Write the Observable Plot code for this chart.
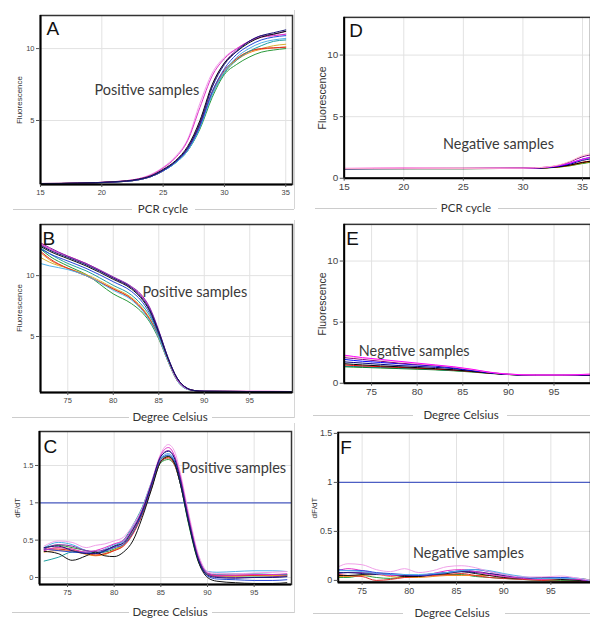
<!DOCTYPE html>
<html><head><meta charset="utf-8">
<script src="https://cdn.jsdelivr.net/npm/d3@7"></script>
<script src="https://cdn.jsdelivr.net/npm/@observablehq/plot@0.6"></script>
<style>
html,body{margin:0;padding:0;background:#fff;}
#fig{position:relative;width:590px;height:619px;overflow:hidden;background:#fff;font-family:"Liberation Sans",Arial,sans-serif;}
.p{position:absolute;}
.ttl{position:absolute;font-family:Lato,"Open Sans",sans-serif;font-size:11.5px;color:#333;transform:translate(-50%,-50%);white-space:nowrap;}
.ylab{position:absolute;font-family:"Liberation Sans",Arial,sans-serif;color:#333;transform:translate(-50%,-50%) rotate(-90deg);white-space:nowrap;line-height:1;}
.hl{position:absolute;height:1px;background:#cccccc;}
.vl{position:absolute;width:1px;background:#d6d6d6;}
</style></head><body><div id="fig"></div><script>
// ---- shared series ----
const seriesNames = ["green","gold","orange","red","teal","sky","blue","pink","magenta","purple","black","navy"];
const seriesColors = ["#2a9a3a","#d8b030","#f08a20","#e02828","#20a0a0","#50b0e8","#2848d8","#f0a0e8","#e030c8","#8a2aa8","#111111","#181878"];
const thresholdDfdt = 1;

// ---- Panel A: positive amplification ----
const cyclesA = [15,18,21,23,24,25,26,27,28,29,30,31,32,33,34,35];
const ampPosNames = ["green","gold","orange","red","teal","sky","blue","pink","magenta","purple","black","navy"];
const ampPos = [
  [0.6,0.64,0.72,0.88,1.1,1.5,2.05,2.9,4.4,6.6,8.2,8.9,9.4,9.75,9.9,10.0],
  [0.6,0.64,0.72,0.88,1.1,1.5,2.1,3.0,4.6,6.9,8.4,9.3,9.8,10.0,10.2,10.3],
  [0.6,0.64,0.72,0.88,1.1,1.5,2.1,3.0,4.6,6.9,8.4,9.2,9.7,9.95,10.05,10.1],
  [0.6,0.64,0.72,0.88,1.1,1.5,2.1,3.0,4.7,7.0,8.5,9.3,9.8,10.0,10.05,10.1],
  [0.6,0.64,0.72,0.88,1.1,1.5,2.05,2.9,4.5,6.8,8.3,9.2,9.8,10.2,10.5,10.6],
  [0.6,0.64,0.72,0.88,1.1,1.5,2.05,2.9,4.5,6.8,8.4,9.4,10.0,10.4,10.6,10.7],
  [0.6,0.64,0.72,0.88,1.1,1.5,2.1,3.0,4.6,7.0,8.6,9.6,10.2,10.6,10.8,10.9],
  [0.62,0.65,0.75,0.95,1.25,1.75,2.5,3.7,6.2,8.3,9.4,10.0,10.5,10.8,10.9,11.0],
  [0.62,0.65,0.75,0.95,1.2,1.7,2.4,3.6,5.9,8.1,9.3,10.0,10.5,10.8,10.9,11.0],
  [0.6,0.64,0.73,0.9,1.12,1.55,2.15,3.1,4.9,7.4,9.0,9.9,10.5,10.9,11.0,11.2],
  [0.62,0.65,0.74,0.92,1.15,1.6,2.2,3.2,5.0,7.5,9.0,9.8,10.4,10.8,11.0,11.2],
  [0.6,0.64,0.73,0.9,1.12,1.55,2.15,3.1,4.8,7.3,8.9,9.8,10.5,10.9,11.1,11.3]
];

// ---- Panel B: positive melt ----
const tempsB = [72,73,75,77,80,82,83,84,85,86,87,88,89,90,95,99.7];
const meltPosNames = ["green","gold","orange","red","teal","sky","blue","pink","magenta","purple","black","navy"];
const meltPos = [
  [12.2,11.6,10.8,10.1,8.5,7.7,7.1,6.2,4.8,3.0,1.4,0.7,0.55,0.5,0.48,0.47],
  [11.5,11.1,10.6,10.1,9.0,8.2,7.5,6.5,5.0,3.0,1.5,0.75,0.55,0.5,0.48,0.47],
  [11.9,11.3,10.6,10.0,8.9,8.1,7.4,6.4,4.9,3.0,1.4,0.75,0.55,0.5,0.48,0.47],
  [12.0,11.4,10.6,10.0,8.9,8.1,7.4,6.4,5.0,3.1,1.5,0.75,0.55,0.5,0.48,0.47],
  [12.3,11.8,11.0,10.4,9.2,8.4,7.7,6.7,5.1,3.1,1.5,0.75,0.55,0.5,0.48,0.47],
  [11.0,10.8,10.5,10.0,8.8,8.0,7.3,6.3,4.9,3.0,1.4,0.7,0.55,0.5,0.48,0.47],
  [12.2,11.8,11.2,10.6,9.5,8.7,8.0,6.9,5.2,3.2,1.6,0.8,0.55,0.5,0.48,0.47],
  [12.6,12.2,11.6,11.0,9.85,9.1,8.4,7.3,5.4,3.2,1.5,0.75,0.55,0.5,0.5,0.48],
  [12.6,12.2,11.6,11.0,9.8,9.0,8.4,7.3,5.4,3.2,1.5,0.75,0.55,0.5,0.5,0.48],
  [12.7,12.3,11.6,11.0,9.9,9.1,8.5,7.4,5.5,3.3,1.6,0.8,0.55,0.5,0.48,0.48],
  [12.4,12.0,11.4,10.8,9.7,8.9,8.2,7.1,5.3,3.2,1.6,0.8,0.55,0.5,0.48,0.47],
  [12.5,12.1,11.5,10.9,9.8,9.0,8.3,7.2,5.4,3.3,1.6,0.8,0.55,0.5,0.48,0.47]
];

// ---- Panel C: positive dF/dT ----
const tempsC = [72.5,74,75.5,77,78,79,80,81,82,83,84,85,85.8,86.5,87,88,89,90,91,93,95,97,98.5];
const derivPosNames = ["green","gold","orange","red","teal","sky","blue","pink","magenta","purple","black","navy"];
const derivPos = [
  [0.40,0.43,0.40,0.36,0.33,0.34,0.38,0.44,0.60,0.85,1.20,1.54,1.58,1.50,1.30,0.70,0.22,0.04,0.02,0.02,0.02,0.02,0.02],
  [0.36,0.40,0.38,0.32,0.30,0.31,0.37,0.44,0.62,0.88,1.24,1.58,1.62,1.52,1.32,0.76,0.26,0.04,0.02,0.02,0.03,0.03,0.03],
  [0.34,0.36,0.35,0.31,0.29,0.31,0.36,0.43,0.60,0.86,1.22,1.56,1.61,1.51,1.31,0.74,0.25,0.04,0.02,0.02,0.03,0.03,0.03],
  [0.38,0.38,0.36,0.33,0.30,0.32,0.36,0.42,0.58,0.84,1.20,1.56,1.60,1.50,1.30,0.74,0.26,0.05,0.03,0.03,0.03,0.04,0.04],
  [0.22,0.27,0.34,0.34,0.33,0.36,0.42,0.50,0.70,0.94,1.28,1.60,1.63,1.52,1.30,0.72,0.24,0.05,0.04,0.05,0.05,0.04,0.04],
  [0.40,0.47,0.44,0.36,0.33,0.38,0.44,0.48,0.68,0.92,1.27,1.60,1.66,1.55,1.34,0.78,0.28,0.08,0.07,0.08,0.09,0.09,0.08],
  [0.38,0.36,0.34,0.33,0.32,0.35,0.40,0.44,0.60,0.86,1.22,1.58,1.64,1.54,1.32,0.74,0.24,0.02,-0.02,-0.03,-0.04,-0.04,-0.03],
  [0.42,0.49,0.47,0.40,0.43,0.45,0.49,0.54,0.70,0.92,1.28,1.66,1.78,1.68,1.45,0.85,0.32,0.08,0.05,0.05,0.06,0.07,0.08],
  [0.36,0.40,0.38,0.34,0.36,0.40,0.45,0.50,0.66,0.90,1.26,1.64,1.74,1.62,1.40,0.80,0.28,0.06,0.03,0.03,0.04,0.04,0.05],
  [0.38,0.44,0.42,0.36,0.35,0.37,0.41,0.47,0.64,0.90,1.26,1.62,1.70,1.60,1.38,0.78,0.27,0.05,0.01,0.00,0.00,0.01,0.02],
  [0.35,0.32,0.23,0.29,0.34,0.29,0.28,0.34,0.49,0.80,1.18,1.55,1.62,1.52,1.30,0.72,0.22,0.00,-0.05,-0.07,-0.08,-0.08,-0.07],
  [0.40,0.42,0.36,0.32,0.32,0.36,0.42,0.46,0.64,0.88,1.25,1.62,1.69,1.58,1.35,0.75,0.25,0.03,0.00,-0.01,0.00,0.00,0.01]
];

// ---- Panel D: negative amplification ----
const cyclesD = [15,20,25,30,31,32,33,34,35,35.7];
const ampNegNames = ["green","orange","red","black","navy","blue","purple","magenta","pink"];
const ampNeg = [
  [0.78,0.78,0.78,0.8,0.81,0.84,0.9,1.02,1.2,1.3],
  [0.79,0.79,0.8,0.8,0.82,0.85,0.92,1.05,1.25,1.35],
  [0.79,0.8,0.8,0.81,0.82,0.86,0.94,1.08,1.3,1.4],
  [0.77,0.78,0.78,0.8,0.82,0.85,0.93,1.08,1.28,1.38],
  [0.78,0.79,0.79,0.8,0.82,0.86,0.96,1.15,1.45,1.58],
  [0.78,0.79,0.8,0.81,0.83,0.88,1.0,1.22,1.55,1.7],
  [0.78,0.8,0.8,0.82,0.84,0.9,1.05,1.35,1.75,1.9],
  [0.8,0.82,0.8,0.82,0.84,0.9,1.02,1.25,1.55,1.7],
  [0.8,0.81,0.8,0.82,0.85,0.92,1.08,1.4,1.85,2.0]
];

// ---- Panel E: negative melt ----
const tempsE = [72,74,76,78,80,82,84,86,88,90,93,96,99];
const meltNegNames = ["green","teal","red","black","navy","blue","purple","pink","magenta"];
const meltNeg = [
  [1.35,1.3,1.25,1.2,1.15,1.1,1.02,0.92,0.8,0.71,0.66,0.65,0.66],
  [1.4,1.35,1.3,1.25,1.2,1.12,1.05,0.95,0.82,0.72,0.66,0.65,0.66],
  [1.5,1.42,1.36,1.3,1.24,1.16,1.08,0.96,0.82,0.72,0.66,0.65,0.66],
  [1.6,1.5,1.42,1.35,1.28,1.2,1.1,0.98,0.83,0.72,0.66,0.65,0.67],
  [1.75,1.65,1.55,1.45,1.38,1.3,1.2,1.02,0.85,0.72,0.66,0.66,0.68],
  [1.95,1.8,1.7,1.6,1.5,1.4,1.25,1.05,0.86,0.73,0.67,0.66,0.7],
  [2.1,1.95,1.8,1.65,1.55,1.45,1.3,1.1,0.88,0.74,0.67,0.66,0.7],
  [2.2,2.05,1.9,1.75,1.6,1.48,1.33,1.12,0.9,0.75,0.68,0.68,0.74],
  [2.3,2.1,1.95,1.8,1.65,1.5,1.35,1.15,0.9,0.75,0.68,0.68,0.75]
];

// ---- Panel F: negative dF/dT ----
const tempsF = [72.5,73.5,75,76.5,78,79.5,81,82.5,84,85.5,87,88.5,90,92,94,96,98,99.2];
const derivNegNames = ["green","orange","red","black","purple","navy","magenta","blue","sky","pink"];
const derivNeg = [
  [0.03,0.03,0.05,0.03,0.02,0.04,0.05,0.06,0.06,0.06,0.04,0.03,0.02,0.01,0.0,0.0,0.0,-0.01],
  [0.04,0.04,0.05,0.06,0.04,0.03,0.03,0.04,0.05,0.05,0.05,0.05,0.03,0.02,0.01,0.01,0.02,0.0],
  [0.06,0.05,0.04,0.0,0.01,0.03,0.04,0.05,0.06,0.07,0.05,0.03,0.02,0.01,0.0,-0.01,-0.01,-0.01],
  [0.05,0.05,0.06,0.07,0.06,0.04,0.04,0.06,0.07,0.09,0.07,0.05,0.03,0.02,0.02,0.01,0.0,-0.01],
  [0.07,0.08,0.08,0.07,0.06,0.05,0.05,0.07,0.08,0.09,0.09,0.07,0.05,0.03,0.02,0.02,0.01,-0.01],
  [0.08,0.08,0.07,0.06,0.06,0.05,0.05,0.06,0.08,0.09,0.08,0.07,0.05,0.03,0.03,0.02,0.01,-0.01],
  [0.1,0.12,0.1,0.07,0.05,0.06,0.05,0.07,0.1,0.11,0.09,0.06,0.04,0.02,0.01,0.02,0.01,-0.01],
  [0.11,0.1,0.1,0.08,0.07,0.06,0.05,0.06,0.08,0.1,0.11,0.09,0.06,0.03,0.02,0.03,0.02,-0.01],
  [0.1,0.1,0.09,0.07,0.06,0.06,0.06,0.07,0.08,0.1,0.11,0.1,0.07,0.04,0.02,0.02,0.02,0.0],
  [0.14,0.17,0.16,0.11,0.09,0.12,0.08,0.1,0.14,0.15,0.13,0.09,0.06,0.035,0.035,0.045,0.02,0.0]
];

// ---- tick values ----
const cycleTicks = [15,20,25,30,35];
const tempTicks = [75,80,85,90,95];
const fluoTicksPos = [5,10];
const fluoTicksNeg = [0,5,10];
const derivTicks = [0,0.5,1,1.5];

const fig = document.getElementById("fig");
const plain = d => String(d);

function drawPanel(c) {
  const rows = [];
  c.names.forEach((n, i) => c.values[i].forEach((v, j) => rows.push({x: c.xs[j], y: v, s: n})));
  const marks = [
    Plot.gridX(c.xTicks, {stroke: "#e2e2e2", strokeOpacity: 1}),
    Plot.gridY(c.yTicks, {stroke: "#e2e2e2", strokeOpacity: 1})
  ];
  if (c.threshold != null) marks.push(Plot.ruleY([c.threshold], {stroke: "#4c5ec4", strokeWidth: 1.3}));
  marks.push(Plot.line(rows, {x: "x", y: "y", z: "s", stroke: "s", strokeWidth: 1, curve: "monotone-x", clip: true}));
  marks.push(Plot.frame({stroke: "#333", strokeWidth: 1.5}));
  marks.push(Plot.ruleX([c.xDomain[0]], {stroke: "#000", strokeWidth: 2}));
  marks.push(Plot.ruleY([c.yDomain[0]], {stroke: "#000", strokeWidth: 2.2}));
  marks.push(Plot.axisX(c.xTicks, {tickSize: 3, tickPadding: 2, label: null, fontSize: c.tickFont, stroke: "#555", tickFormat: plain}));
  marks.push(Plot.axisY(c.yTicks, {tickSize: 4, tickPadding: 2, label: null, fontSize: c.tickFont, stroke: "#555", tickFormat: plain}));
  marks.push(Plot.text([c.letter], {frameAnchor: "top-left", dx: c.letterDx, dy: c.letterDy, lineAnchor: "top", textAnchor: "start", fontSize: 19, fill: "#111"}));
  marks.push(Plot.text([{t: c.note, x: c.noteX, y: c.noteY}], {x: "x", y: "y", text: "t", textAnchor: "start", fontFamily: "Lato, 'Open Sans', sans-serif", fontSize: 14.5, fill: "#3a3a3a"}));
  const svg = Plot.plot({
    width: c.width, height: c.height,
    marginLeft: c.ml, marginRight: c.mr, marginTop: c.mt, marginBottom: c.mb,
    x: {domain: c.xDomain},
    y: {domain: c.yDomain},
    color: {domain: seriesNames, range: seriesColors},
    style: {fontFamily: "'Liberation Sans', Arial, sans-serif", fontSize: c.tickFont + "px", color: "#444", background: "transparent", overflow: "visible"},
    marks
  });
  const d = document.createElement("div");
  d.className = "p";
  d.style.left = c.left + "px";
  d.style.top = c.top + "px";
  d.appendChild(svg);
  fig.appendChild(d);
  // rotated y-axis title, centred on the frame's left edge
  const lab = document.createElement("div");
  lab.className = "ylab";
  lab.textContent = c.yLabel;
  lab.style.fontSize = c.yLabelFont + "px";
  lab.style.left = (c.left + c.ml - c.yLabelOffset) + "px";
  lab.style.top = (c.top + c.mt + (c.height - c.mt - c.mb) / 2) + "px";
  fig.appendChild(lab);
}

drawPanel({letter: "A", xs: cyclesA, names: ampPosNames, values: ampPos, xTicks: cycleTicks, yTicks: fluoTicksPos,
  xDomain: [15, 35.55], yDomain: [0.55, 12.3], left: 0, top: 0, width: 296, height: 200, ml: 40, mr: 4, mt: 15, mb: 16,
  tickFont: 7.5, yLabel: "Fluorescence", yLabelOffset: 20, yLabelFont: 8, letterDx: 6, letterDy: 6,
  note: "Positive samples", noteX: 19.4, noteY: 7.1});
drawPanel({letter: "B", xs: tempsB, names: meltPosNames, values: meltPos, xTicks: tempTicks, yTicks: fluoTicksPos,
  xDomain: [72, 99.7], yDomain: [0.4, 14.2], left: 0, top: 205, width: 296, height: 203, ml: 40, mr: 4, mt: 19, mb: 16,
  tickFont: 7.5, yLabel: "Fluorescence", yLabelOffset: 20, yLabelFont: 8, letterDx: 2, letterDy: 7,
  note: "Positive samples", noteX: 83.2, noteY: 8.6});
drawPanel({letter: "C", xs: tempsC, names: derivPosNames, values: derivPos, xTicks: tempTicks, yTicks: derivTicks, threshold: thresholdDfdt,
  xDomain: [72, 99], yDomain: [-0.094, 1.955], left: 0, top: 420, width: 295, height: 180, ml: 39, mr: 4, mt: 11, mb: 16,
  tickFont: 7.5, yLabel: "dF/dT", yLabelOffset: 21, yLabelFont: 7.5, letterDx: 4, letterDy: 8,
  note: "Positive samples", noteX: 87.2, noteY: 1.46});
drawPanel({letter: "D", xs: cyclesD, names: ampNegNames, values: ampNeg, xTicks: cycleTicks, yTicks: fluoTicksNeg,
  xDomain: [15, 35.67], yDomain: [0, 13.06], left: 300, top: 0, width: 292, height: 200, ml: 44, mr: 0, mt: 17, mb: 21,
  tickFont: 10, yLabel: "Fluorescence", yLabelOffset: 22, yLabelFont: 10.5, letterDx: 5, letterDy: 6,
  note: "Negative samples", noteX: 23.3, noteY: 2.74});
drawPanel({letter: "E", xs: tempsE, names: meltNegNames, values: meltNeg, xTicks: tempTicks, yTicks: fluoTicksNeg,
  xDomain: [72, 99], yDomain: [0, 13.0], left: 300, top: 205, width: 292, height: 195, ml: 44, mr: 0, mt: 19, mb: 16,
  tickFont: 10, yLabel: "Fluorescence", yLabelOffset: 22, yLabelFont: 10.5, letterDx: 2, letterDy: 7,
  note: "Negative samples", noteX: 73.6, noteY: 2.6});
drawPanel({letter: "F", xs: tempsF, names: derivNegNames, values: derivNeg, xTicks: tempTicks, yTicks: derivTicks, threshold: thresholdDfdt,
  xDomain: [72.47, 99.2], yDomain: [-0.02, 1.51], left: 300, top: 420, width: 292, height: 179, ml: 38, mr: 0, mt: 12, mb: 16,
  tickFont: 9, yLabel: "dF/dT", yLabelOffset: 23, yLabelFont: 8, letterDx: 2, letterDy: 8,
  note: "Negative samples", noteX: 80.4, noteY: 0.28});

// ---- x titles with flanking rules, and panel separators ----
const titles = [
  {t: "PCR  cycle", cx: 163, cy: 208, l1: [13, 132], l2: [195, 294]},
  {t: "PCR  cycle", cx: 466, cy: 207, l1: [315, 437], l2: [498, 590]},
  {t: "Degree Celsius", cx: 170, cy: 416, l1: [12, 129], l2: [212, 294]},
  {t: "Degree Celsius", cx: 461, cy: 414, l1: [313, 413], l2: [507, 590]},
  {t: "Degree Celsius", cx: 170, cy: 611, l1: [12, 129], l2: [212, 294]},
  {t: "Degree Celsius", cx: 452, cy: 612, l1: [313, 403], l2: [505, 590]}
];
titles.forEach(o => {
  const s = document.createElement("div"); s.className = "ttl"; s.textContent = o.t;
  s.style.left = o.cx + "px"; s.style.top = o.cy + "px"; fig.appendChild(s);
  [o.l1, o.l2].forEach(([a, b]) => {
    const h = document.createElement("div"); h.className = "hl";
    h.style.left = a + "px"; h.style.width = (b - a) + "px"; h.style.top = (o.cy + 1) + "px"; fig.appendChild(h);
  });
});
[[10, 209], [220, 418], [423, 613]].forEach(([a, b]) => {
  const v = document.createElement("div"); v.className = "vl";
  v.style.left = "294px"; v.style.top = a + "px"; v.style.height = (b - a) + "px"; fig.appendChild(v);
});
</script></body></html>
